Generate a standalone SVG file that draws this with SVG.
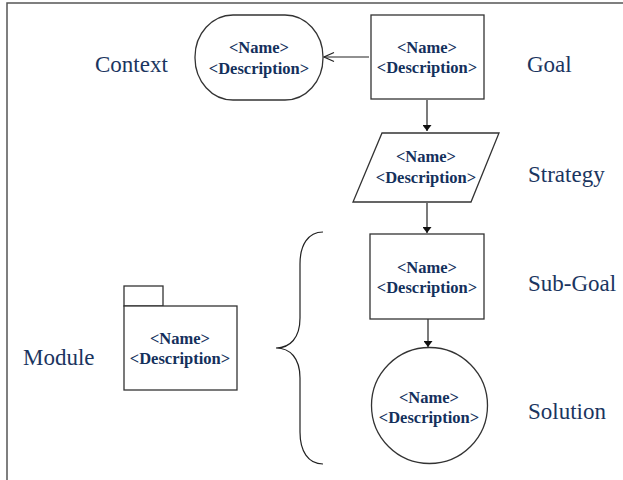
<svg xmlns="http://www.w3.org/2000/svg" width="623" height="480" viewBox="0 0 623 480">
<defs>
<style>
.shape{fill:#fff;stroke:#333;stroke-width:1.3}
.ln{fill:none;stroke:#222;stroke-width:1.2}
</style>
<marker id="fill" viewBox="0 0 10 10" refX="10" refY="5" markerWidth="6" markerHeight="9" markerUnits="userSpaceOnUse" orient="auto" preserveAspectRatio="none">
<path d="M0,0 L10,5 L0,10 Z" fill="#111"/>
</marker>
<marker id="open" viewBox="0 0 12 12" refX="11" refY="6" markerWidth="12" markerHeight="12" markerUnits="userSpaceOnUse" orient="auto">
<path d="M1,1.5 L11,6 L1,10.5" fill="none" stroke="#222" stroke-width="1.2"/>
</marker>
</defs>
<rect width="623" height="480" fill="#fff"/>
<path d="M7,480 L7,3 L623,3" fill="none" stroke="#555" stroke-width="1.5"/>

<g id="connectors">
<line class="ln" x1="369" y1="57" x2="324" y2="57" marker-end="url(#open)"/>
<line class="ln" x1="427" y1="100" x2="427" y2="131" marker-end="url(#fill)"/>
<line class="ln" x1="427" y1="203" x2="427" y2="233" marker-end="url(#fill)"/>
<line class="ln" x1="428" y1="319" x2="428" y2="347" marker-end="url(#fill)"/>
</g>

<g id="context">
<rect class="shape" x="195" y="15" width="128" height="85" rx="38" ry="42"/>
<text x="259" y="53" font-family="Liberation Serif" font-weight="bold" font-size="16.5" fill="#14305c" text-anchor="middle">&lt;Name&gt;</text>
<text x="259" y="74" font-family="Liberation Serif" font-weight="bold" font-size="16.5" fill="#14305c" text-anchor="middle">&lt;Description&gt;</text>
<text x="95" y="72" font-family="Liberation Serif" font-size="23" fill="#1b3560">Context</text>
</g>

<g id="goal">
<rect class="shape" x="371" y="15" width="113" height="84"/>
<text x="427" y="53" font-family="Liberation Serif" font-weight="bold" font-size="16.5" fill="#14305c" text-anchor="middle">&lt;Name&gt;</text>
<text x="427" y="73" font-family="Liberation Serif" font-weight="bold" font-size="16.5" fill="#14305c" text-anchor="middle">&lt;Description&gt;</text>
<text x="527" y="72" font-family="Liberation Serif" font-size="23" fill="#1b3560">Goal</text>
</g>

<g id="strategy">
<polygon class="shape" points="382,133 499,133 471,202 353,202"/>
<text x="426" y="162" font-family="Liberation Serif" font-weight="bold" font-size="16.5" fill="#14305c" text-anchor="middle">&lt;Name&gt;</text>
<text x="426" y="183" font-family="Liberation Serif" font-weight="bold" font-size="16.5" fill="#14305c" text-anchor="middle">&lt;Description&gt;</text>
<text x="528" y="182" font-family="Liberation Serif" font-size="23" fill="#1b3560">Strategy</text>
</g>

<g id="subgoal">
<rect class="shape" x="370" y="234" width="114" height="85"/>
<text x="427" y="273" font-family="Liberation Serif" font-weight="bold" font-size="16.5" fill="#14305c" text-anchor="middle">&lt;Name&gt;</text>
<text x="427" y="293" font-family="Liberation Serif" font-weight="bold" font-size="16.5" fill="#14305c" text-anchor="middle">&lt;Description&gt;</text>
<text x="528" y="291" font-family="Liberation Serif" font-size="23" fill="#1b3560">Sub-Goal</text>
</g>

<g id="solution">
<circle class="shape" cx="429.5" cy="405.5" r="58"/>
<text x="429" y="403" font-family="Liberation Serif" font-weight="bold" font-size="16.5" fill="#14305c" text-anchor="middle">&lt;Name&gt;</text>
<text x="429" y="423" font-family="Liberation Serif" font-weight="bold" font-size="16.5" fill="#14305c" text-anchor="middle">&lt;Description&gt;</text>
<text x="528" y="419" font-family="Liberation Serif" font-size="23" fill="#1b3560">Solution</text>
</g>

<g id="module">
<rect class="shape" x="124" y="286" width="39" height="20"/>
<rect class="shape" x="124" y="306" width="113" height="84"/>
<text x="180" y="344" font-family="Liberation Serif" font-weight="bold" font-size="16.5" fill="#14305c" text-anchor="middle">&lt;Name&gt;</text>
<text x="180" y="364" font-family="Liberation Serif" font-weight="bold" font-size="16.5" fill="#14305c" text-anchor="middle">&lt;Description&gt;</text>
<text x="23" y="365" font-family="Liberation Serif" font-size="23" fill="#1b3560">Module</text>
</g>

<g id="brace">
<path class="ln" d="M323,232 C308,232 300,245 300,264 L300,318 C300,338 290,348 276,348 C290,348 300,358 300,378 L300,432 C300,451 308,464 323,464"/>
</g>
</svg>
